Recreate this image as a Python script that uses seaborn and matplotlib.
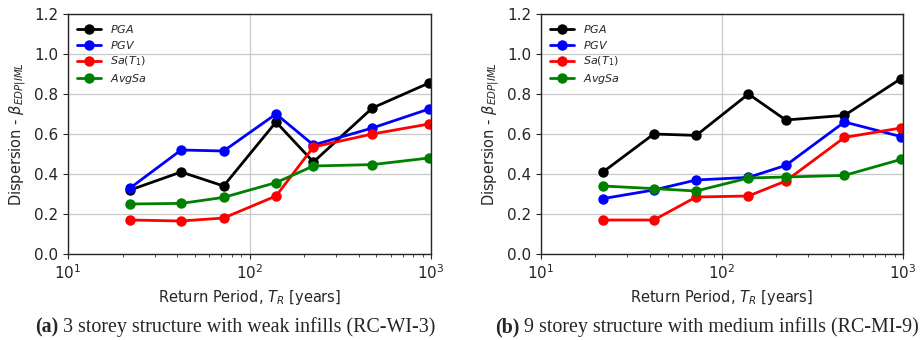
import numpy as np
import pandas as pd
import matplotlib
matplotlib.use('Agg')
import matplotlib.pyplot as plt
import seaborn as sns

# Return periods [years]
return_periods = [22, 42, 72, 140, 225, 475, 975]
im_names = ['$PGA$', '$PGV$', '$Sa(T_1)$', '$AvgSa$']
im_colors = ['black', 'blue', 'red', 'green']

# (a) RC-WI-3
pga_a = [0.32, 0.41, 0.34, 0.66, 0.46, 0.73, 0.855]
pgv_a = [0.33, 0.52, 0.515, 0.70, 0.545, 0.63, 0.725]
sa_a = [0.17, 0.165, 0.18, 0.29, 0.535, 0.60, 0.65]
avgsa_a = [0.25, 0.253, 0.283, 0.357, 0.44, 0.447, 0.48]

# (b) RC-MI-9
pga_b = [0.41, 0.60, 0.593, 0.80, 0.67, 0.693, 0.877]
pgv_b = [0.277, 0.32, 0.37, 0.383, 0.443, 0.66, 0.587]
sa_b = [0.17, 0.17, 0.285, 0.29, 0.365, 0.583, 0.63]
avgsa_b = [0.34, 0.327, 0.315, 0.38, 0.385, 0.393, 0.473]

captions = [('(a)', ' 3 storey structure with weak infills (RC-WI-3)'),
            ('(b)', ' 9 storey structure with medium infills (RC-MI-9)')]
caption_x = [35 / 924, 495 / 924]


def make_frame(series):
    rows = []
    for name, vals in zip(im_names, series):
        for tr, v in zip(return_periods, vals):
            rows.append({'TR': tr, 'beta': v, 'IM': name})
    return pd.DataFrame(rows)


sns.set_style('ticks')
plt.rcParams['font.family'] = ['DejaVu Sans']
plt.rcParams['mathtext.fontset'] = 'dejavusans'

fig = plt.figure(figsize=(9.24, 3.4), dpi=100)
ax_a = fig.add_axes([68 / 924, 1 - 254 / 340, 363 / 924, 240 / 340])
ax_b = fig.add_axes([541 / 924, 1 - 254 / 340, 362 / 924, 240 / 340])

for ax, series, cap, cx in zip([ax_a, ax_b],
                               [[pga_a, pgv_a, sa_a, avgsa_a], [pga_b, pgv_b, sa_b, avgsa_b]],
                               captions, caption_x):
    df = make_frame(series)
    sns.lineplot(data=df, x='TR', y='beta', hue='IM', palette=im_colors,
                 marker='o', markersize=7.5, markeredgewidth=0, linewidth=2,
                 ax=ax, legend=True)
    ax.set_xscale('log')
    ax.set_xlim(10, 1000)
    ax.set_ylim(0, 1.2)
    ax.set_yticks(np.arange(0, 1.21, 0.2))
    ax.grid(True, which='major', color='#c8c8c8', linewidth=0.9)
    ax.set_axisbelow(True)
    ax.tick_params(labelsize=11, direction='out')
    ax.set_xlabel('Return Period, $T_R$ [years]', fontsize=10.5)
    ax.set_ylabel(r'Dispersion - $\beta_{EDP|IML}$', fontsize=10.5)
    for s in ax.spines.values():
        s.set_linewidth(1.0)
    ax.legend(loc='upper left', fontsize=8, frameon=False,
              handlelength=2.2, borderaxespad=0.4, labelspacing=0.35)
    # caption under each panel: bold label + normal text
    t1 = fig.text(cx, 8 / 340, cap[0], ha='left', va='baseline',
                  fontsize=14.4, fontweight='bold', family='Liberation Serif')
    ax.annotate(cap[1], xy=(1, 0), xycoords=t1, ha='left', va='bottom',
                fontsize=14.4, family='Liberation Serif', annotation_clip=False)

fig.savefig('out.png', dpi=100)
